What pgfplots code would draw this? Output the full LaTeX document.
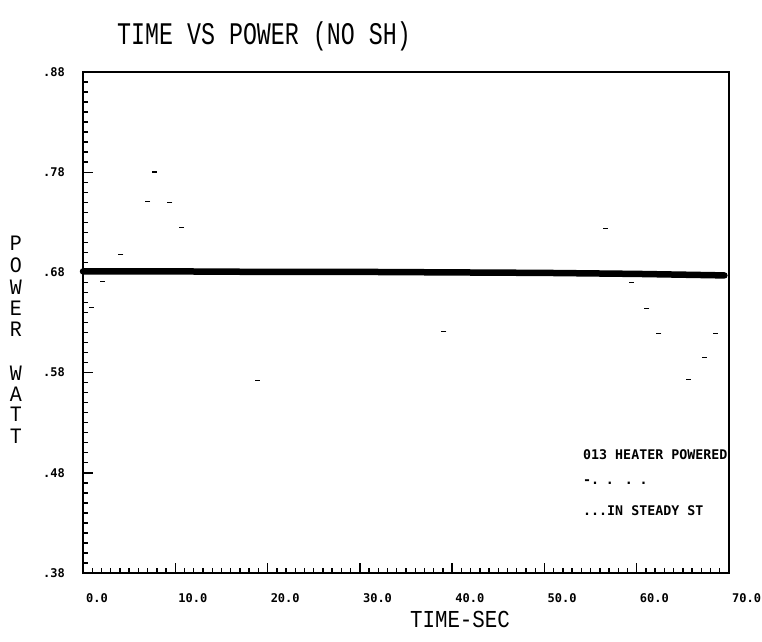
\documentclass[border=0pt]{standalone}
\usepackage{pgfplots}
\pgfplotsset{compat=1.18}
\usepackage{fontspec}
\newfontfamily\plotmono{Liberation Mono}
\newfontfamily\plotbold{DejaVu Sans Mono}
\begin{document}
\begin{tikzpicture}[x=1pt,y=1pt]
\useasboundingbox (0,0) rectangle (762,641);
\begin{axis}[
  at={(83pt,68pt)}, anchor=south west,
  scale only axis, width=646pt, height=501pt,
  xmin=0, xmax=70, ymin=0.38, ymax=0.88,
  axis line style={line width=1.6pt},
  tick style={line width=1.4pt, black},
  xtick={0,10,...,70},
  xticklabels={0.0,10.0,20.0,30.0,40.0,50.0,60.0,70.0},
  minor x tick num=9,
  ytick={0.38,0.48,0.58,0.68,0.78,0.88},
  yticklabels={.38,.48,.58,.68,.78,.88},
  minor y tick num=9,
  major tick length=10pt, minor tick length=5pt,
  tickpos=left, tick align=inside,
  xticklabel style={anchor=west, inner sep=0pt, xshift=3pt, yshift=-25pt, font=\plotbold\bfseries\fontsize{12}{12}\selectfont},
  yticklabel style={anchor=east, inner sep=0pt, xshift=-18pt, font=\plotbold\bfseries\fontsize{12}{12}\selectfont},
  clip=false,
]
\addplot[black, line width=6.5pt, line cap=round] coordinates {
  (0,0.681) (10,0.681) (20,0.6805) (30,0.6805) (40,0.680) (50,0.6795) (60,0.6785) (69.5,0.677)
};
\addplot[only marks, mark=-, mark size=2.5pt, mark options={line width=1.5pt, black}] coordinates {
  (7.7,0.780) (7.0,0.751) (9.4,0.750) (10.7,0.725) (4.1,0.698) (2.1,0.671) (0.9,0.645)
  (56.6,0.724) (59.4,0.670) (61.1,0.644) (62.4,0.619) (68.5,0.619) (67.3,0.595) (65.6,0.573)
  (39.1,0.621) (18.9,0.572)
};
\end{axis}
\node at (264,605) {\scalebox{1}[1.35]{\plotmono\fontsize{23.3}{24}\selectfont TIME VS POWER (NO SH)}};
\node at (460,22) {\scalebox{1}[1.17]{\plotmono\fontsize{20.8}{22}\selectfont TIME-SEC}};
\foreach \l/\yy in {P/243,O/265,W/287,E/308,R/329,W/373,A/394,T/414,T/436}
  \node at (16,641-\yy) {\scalebox{1}[1.1]{\plotmono\fontsize{20}{20}\selectfont \l}};
\node[anchor=west, inner sep=0pt] at (583,186) {\plotbold\bfseries\fontsize{13.3}{14}\selectfont 013 HEATER POWERED};
\node[anchor=west, inner sep=0pt] at (583,159) {\plotbold\bfseries\fontsize{13.3}{14}\selectfont -.\,\,\,.\,\,\,\,\,.\,\,\,.};
\node[anchor=west, inner sep=0pt] at (583,130) {\plotbold\bfseries\fontsize{13.3}{14}\selectfont ...IN STEADY ST};
\end{tikzpicture}
\end{document}
